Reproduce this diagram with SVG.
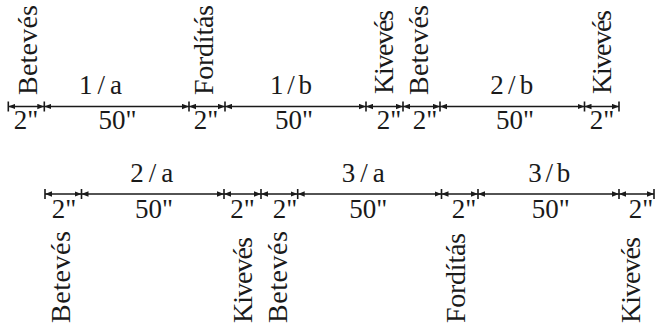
<svg xmlns="http://www.w3.org/2000/svg" width="655" height="328" viewBox="0 0 655 328">
<style>
.seg{stroke:#1a1a1a;stroke-width:1.6;fill:none;marker-start:url(#ah);marker-end:url(#ah)}
.tick{stroke:#1a1a1a;stroke-width:1.6}
.t{font-family:"Liberation Serif","Times New Roman",serif;font-size:27px;fill:#1a1a1a}
.v{font-size:28px}
.c{text-anchor:middle}
</style>
<defs>
<marker id="ah" markerUnits="userSpaceOnUse" viewBox="0 0 7 6" refX="7" refY="3" markerWidth="7" markerHeight="6" orient="auto-start-reverse">
<path d="M0,0.3 L7,3 L0,5.7 z" fill="#1a1a1a"/>
</marker>
</defs>
<rect width="655" height="328" fill="#fff"/>

<g id="connectors">
<!-- row 1 -->
<line class="seg" x1="8.3" y1="106.5" x2="44.3" y2="106.5"/>
<line class="seg" x1="44.3" y1="106.5" x2="189" y2="106.5"/>
<line class="seg" x1="189" y1="106.5" x2="225" y2="106.5"/>
<line class="seg" x1="225" y1="106.5" x2="366" y2="106.5"/>
<line class="seg" x1="366" y1="106.5" x2="403" y2="106.5"/>
<line class="seg" x1="403" y1="106.5" x2="440" y2="106.5"/>
<line class="seg" x1="440" y1="106.5" x2="584.5" y2="106.5"/>
<line class="seg" x1="584.5" y1="106.5" x2="619" y2="106.5"/>
<path class="tick" d="M8.3,101.5V111.5M44.3,101.5V111.5M189,101.5V111.5M225,101.5V111.5M366,101.5V111.5M403,101.5V111.5M440,101.5V111.5M584.5,101.5V111.5M619,101.5V111.5"/>
<!-- row 2 -->
<line class="seg" x1="45" y1="194" x2="81.5" y2="194"/>
<line class="seg" x1="81.5" y1="194" x2="224" y2="194"/>
<line class="seg" x1="224" y1="194" x2="261" y2="194"/>
<line class="seg" x1="261" y1="194" x2="297.7" y2="194"/>
<line class="seg" x1="297.7" y1="194" x2="441.5" y2="194"/>
<line class="seg" x1="441.5" y1="194" x2="478" y2="194"/>
<line class="seg" x1="478" y1="194" x2="619" y2="194"/>
<line class="seg" x1="619" y1="194" x2="654" y2="194"/>
<path class="tick" d="M45,189V199M81.5,189V199M224,189V199M261,189V199M297.7,189V199M441.5,189V199M478,189V199M619,189V199M654,189V199"/>
</g>

<g id="row1-labels">
<text class="t c" x="100.5" y="94" textLength="43">1/a</text>
<text class="t c" x="291" y="94" textLength="42">1/b</text>
<text class="t c" x="511.7" y="94" textLength="43">2/b</text>
<text class="t c" x="26" y="129">2"</text>
<text class="t c" x="117.5" y="129">50"</text>
<text class="t c" x="206" y="129">2"</text>
<text class="t c" x="294" y="129">50"</text>
<text class="t c" x="389" y="129">2"</text>
<text class="t c" x="425" y="129">2"</text>
<text class="t c" x="515" y="129">50"</text>
<text class="t c" x="602" y="129">2"</text>
</g>

<g id="row1-events">
<text class="t v" transform="translate(37,95) rotate(-90)" textLength="90">Betevés</text>
<text class="t v" transform="translate(213,95) rotate(-90)" textLength="90">Fordítás</text>
<text class="t v" transform="translate(393,94) rotate(-90)" textLength="84">Kivevés</text>
<text class="t v" transform="translate(428,95) rotate(-90)" textLength="90">Betevés</text>
<text class="t v" transform="translate(611,94) rotate(-90)" textLength="84">Kivevés</text>
</g>

<g id="row2-labels">
<text class="t c" x="151.7" y="181.5" textLength="43">2/a</text>
<text class="t c" x="363.3" y="181.5" textLength="43">3/a</text>
<text class="t c" x="549.2" y="181.5" textLength="42">3/b</text>
<text class="t c" x="64" y="218">2"</text>
<text class="t c" x="154" y="218">50"</text>
<text class="t c" x="242.5" y="218">2"</text>
<text class="t c" x="285" y="218">2"</text>
<text class="t c" x="368.3" y="218">50"</text>
<text class="t c" x="464" y="218">2"</text>
<text class="t c" x="550.8" y="218">50"</text>
<text class="t c" x="641" y="218">2"</text>
</g>

<g id="row2-events">
<text class="t v" transform="translate(70,323) rotate(-90)" textLength="92">Betevés</text>
<text class="t v" transform="translate(251.5,323) rotate(-90)" textLength="86">Kivevés</text>
<text class="t v" transform="translate(287,323) rotate(-90)" textLength="92">Betevés</text>
<text class="t v" transform="translate(465,323) rotate(-90)" textLength="90">Fordítás</text>
<text class="t v" transform="translate(640,323) rotate(-90)" textLength="86">Kivevés</text>
</g>
</svg>
